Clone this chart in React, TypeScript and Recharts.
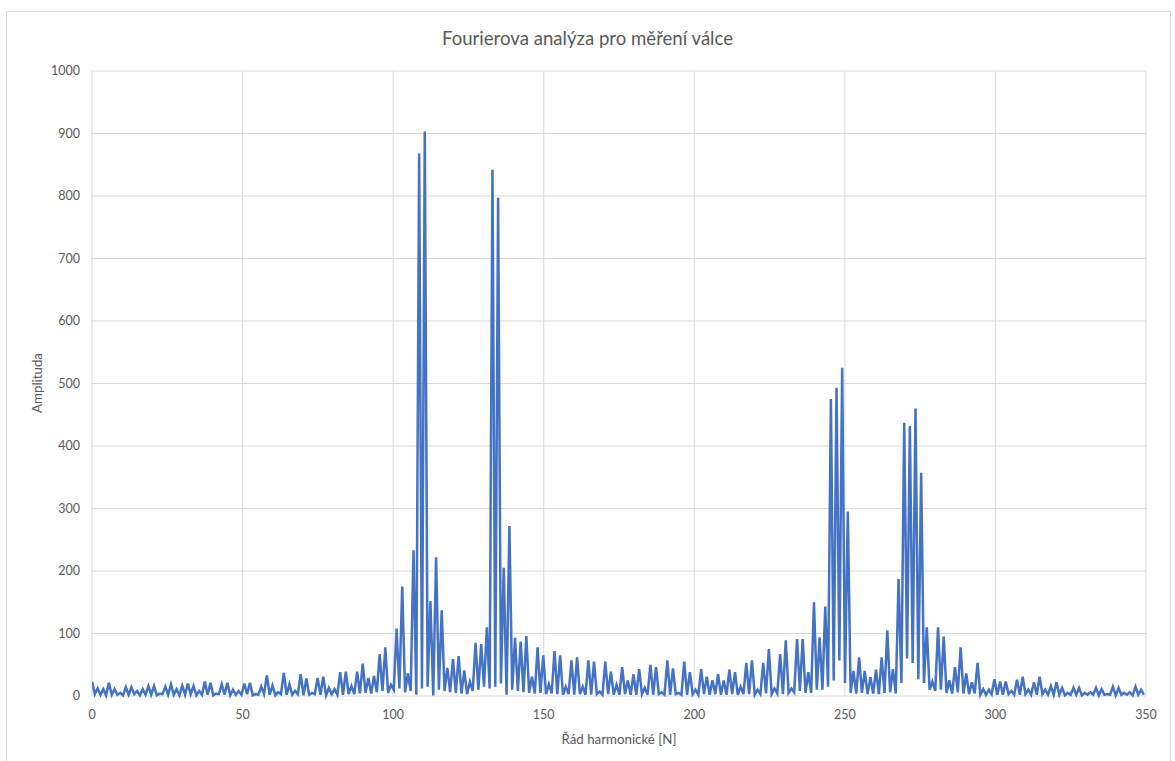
import { CartesianGrid, Line, LineChart, XAxis, YAxis } from "recharts";

// FFT bin width in harmonic orders (peaks sit on every other bin)
const BIN = 0.9365;

// amplitudes on the even bins (the spikes)
const peakAmplitude = [
  23, 12, 11, 21, 11, 5, 14, 14, 8, 11,
  16, 16, 4, 15, 19, 11, 17, 20, 16, 8,
  23, 21, 4, 19, 21, 10, 8, 20, 21, 3,
  15, 33, 17, 6, 37, 19, 8, 35, 28, 5,
  29, 31, 13, 11, 38, 39, 16, 39, 52, 29,
  32, 67, 78, 18, 108, 175, 36, 233, 868, 903,
  152, 222, 137, 45, 59, 64, 41, 23, 85, 83,
  110, 842, 797, 205, 272, 93, 87, 96, 31, 78,
  65, 19, 72, 65, 15, 57, 62, 15, 57, 55,
  7, 55, 39, 18, 46, 25, 35, 43, 13, 50,
  46, 6, 57, 44, 5, 55, 38, 10, 43, 31,
  25, 35, 25, 42, 38, 15, 53, 57, 10, 53,
  75, 12, 67, 89, 12, 91, 91, 38, 150, 94,
  143, 475, 493, 525, 295, 40, 62, 40, 30, 42,
  62, 105, 43, 187, 437, 432, 460, 357, 110, 23,
  110, 95, 25, 46, 78, 36, 22, 53, 11, 10,
  27, 23, 23, 8, 26, 31, 10, 22, 31, 10,
  16, 22, 13, 5, 13, 13, 5, 6, 13, 11,
  3, 15, 13, 5, 6, 15, 10,
];

// amplitudes on the odd bins (between the spikes)
const troughAmplitude = [
  3, 2, 1, 2, 2, 1, 2, 3, 1, 2,
  2, 1, 3, 2, 2, 1, 2, 3, 1, 2,
  2, 1, 3, 2, 1, 2, 2, 3, 1, 2,
  3, 2, 1, 3, 2, 2, 3, 1, 2, 3,
  2, 1, 3, 2, 2, 3, 3, 4, 5, 4,
  6, 8, 5, 10, 12, 6, 8, 2, 12, 15,
  1, 10, 8, 6, 5, 4, 3, 8, 10, 15,
  12, 15, 20, 2, 10, 8, 6, 5, 4, 5,
  3, 4, 3, 2, 3, 2, 3, 2, 2, 3,
  2, 3, 2, 2, 3, 2, 2, 3, 2, 2,
  3, 2, 2, 3, 2, 2, 3, 2, 3, 2,
  3, 2, 2, 3, 2, 3, 3, 2, 3, 4,
  3, 4, 3, 5, 6, 8, 5, 5, 10, 10,
  15, 25, 57, 21, 5, 4, 5, 3, 4, 3,
  5, 6, 4, 21, 60, 53, 27, 21, 10, 8,
  10, 5, 4, 6, 4, 3, 4, 2, 2, 3,
  2, 2, 3, 2, 2, 3, 2, 2, 3, 2,
  2, 2, 1, 2, 2, 1, 2, 2, 1, 2,
  2, 1, 2, 2, 1, 2, 2,
];

const xTicks = [0, 50, 100, 150, 200, 250, 300, 350];
const yTicks = [0, 100, 200, 300, 400, 500, 600, 700, 800, 900, 1000];

const data = peakAmplitude.flatMap((peak, m) => [
  { order: 2 * m * BIN, amplitude: peak },
  { order: (2 * m + 1) * BIN, amplitude: troughAmplitude[m] },
]);

const FONT = "Lato, 'Open Sans', sans-serif";
const TEXT = "#595959";

export default function App() {
  return (
    <div
      style={{
        position: "absolute",
        left: 0,
        top: 0,
        width: 1175,
        height: 761,
        background: "#fff",
        overflow: "hidden",
        fontFamily: FONT,
      }}
    >
      <div
        style={{
          position: "absolute",
          left: 6,
          top: 11,
          width: 1163,
          height: 760,
          border: "1px solid #d9d9d9",
        }}
      />
      <div
        style={{
          position: "absolute",
          left: 0,
          width: 1175,
          top: 27,
          textAlign: "center",
          fontSize: 18.6,
          color: TEXT,
        }}
      >
        Fourierova analýza pro měření válce
      </div>
      <div
        style={{
          position: "absolute",
          left: 92,
          width: 1054,
          top: 731,
          textAlign: "center",
          fontSize: 13.3,
          color: TEXT,
        }}
      >
        Řád harmonické [N]
      </div>
      <div
        style={{
          position: "absolute",
          left: 37,
          top: 383,
          transform: "translate(-50%, -50%) rotate(-90deg)",
          fontSize: 13.3,
          color: TEXT,
          whiteSpace: "nowrap",
        }}
      >
        Amplituda
      </div>
      <div style={{ position: "absolute", left: 0, top: 0 }}>
        <LineChart
          width={1175}
          height={761}
          data={data}
          margin={{ top: 71, right: 29, bottom: 0, left: 0 }}
        >
          <CartesianGrid stroke="#d9d9d9" strokeWidth={1} />
          <XAxis
            dataKey="order"
            type="number"
            domain={[0, 350]}
            ticks={xTicks}
            allowDataOverflow
            axisLine={false}
            tickLine={false}
            tickMargin={8}
            height={65}
            tick={{ fill: TEXT, fontSize: 12.5, fontFamily: FONT }}
          />
          <YAxis
            type="number"
            domain={[0, 1000]}
            ticks={yTicks}
            axisLine={false}
            tickLine={false}
            tickMargin={6}
            width={92}
            tick={{ fill: TEXT, fontSize: 12.5, fontFamily: FONT }}
          />
          <Line
            type="linear"
            dataKey="amplitude"
            stroke="#4472c4"
            strokeWidth={2.5}
            dot={false}
            activeDot={false}
            isAnimationActive={false}
          />
        </LineChart>
      </div>
    </div>
  );
}
